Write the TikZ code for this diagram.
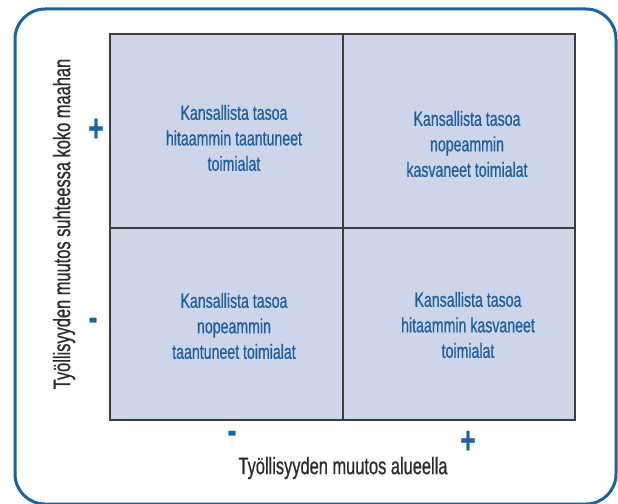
\documentclass[tikz,border=0pt]{standalone}
\usepackage{fontspec}
\setmainfont{Liberation Sans}[FakeStretch=0.69, FakeBold=0.6]
\usepackage{tikz}
\usetikzlibrary{positioning}
\usepackage{xcolor}

\definecolor{framblue}{HTML}{1763A6}
\definecolor{cellfill}{HTML}{CDD6E8}
\definecolor{celltxt}{HTML}{1D5F9E}
\definecolor{axistxt}{HTML}{2A2A2A}
\definecolor{gridline}{HTML}{3C3C3C}

\tikzset{
  cell/.style={draw=gridline, line width=1.5pt, fill=cellfill},
  celltext/.style={align=center, text=celltxt, font=\fontsize{20.5}{25.5}\selectfont},
  sign/.style={text=framblue, font=\fontsize{38}{38}\selectfont\bfseries, inner sep=0pt},
  axislabel/.style={text=axistxt, font=\fontsize{23.8}{28}\selectfont, inner sep=0pt}
}

\begin{document}
\begin{tikzpicture}[x=1pt, y=-1pt]

    \useasboundingbox (0,0) rectangle (618,503);
    \clip (0,0) rectangle (618,503);

    % Outer frame
    \draw[framblue, line width=3pt, rounded corners=30pt] (15,9) rectangle (616,504);

    % Quadrants
    \coordinate (NW) at (110,34);
    \coordinate (M) at (343,228);
    \coordinate (SE) at (575,420);
    \draw[cell] (NW) rectangle (SE);
    \draw[gridline, line width=1.5pt] (NW -| M) -- (SE -| M);
    \draw[gridline, line width=1.5pt] (NW |- M) -- (SE |- M);

    % Quadrant texts
    \node[celltext] (tl) at (234,138) {Kansallista tasoa\\hitaammin taantuneet\\toimialat};
    \node[celltext] (tr) at (467,144) {Kansallista tasoa\\nopeammin\\kasvaneet toimialat};
    \node[celltext] (bl) at (234,326) {Kansallista tasoa\\nopeammin\\taantuneet toimialat};
    \node[celltext] (br) at (468,325) {Kansallista tasoa\\hitaammin kasvaneet\\toimialat};

    % Signs
    \node[sign] (yplus) at (96,130) {+};
    \node[sign] (yminus) at (93,324) {-};
    \node[sign] (xminus) at (232,437) {-};
    \node[sign] (xplus) at (468,442) {+};

    % Axis labels
    \node[axislabel] (xlabel) at (343,468) {Työllisyyden muutos alueella};
    \node[axislabel, rotate=90] (ylabel) at (64,224) {Työllisyyden muutos suhteessa koko maahan};

\end{tikzpicture}
\end{document}
